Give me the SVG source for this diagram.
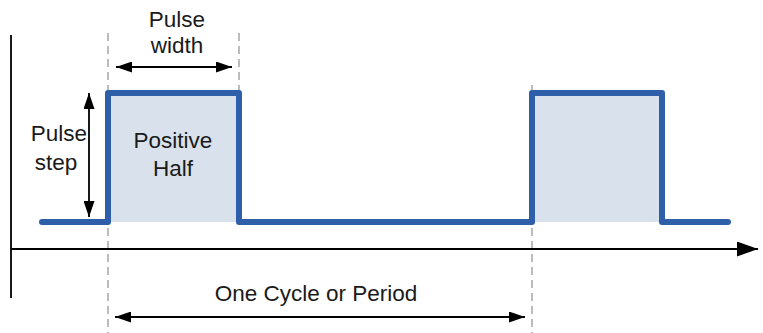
<svg xmlns="http://www.w3.org/2000/svg" width="763" height="333" viewBox="0 0 763 333">
<style>
.t{font-family:"Liberation Sans",Arial,sans-serif;font-size:22.5px;fill:#1a1a1a;text-anchor:middle}
.dash{stroke:#a6a6a6;stroke-width:1.5;stroke-dasharray:8 5;fill:none}
.ax{stroke:#000;stroke-width:1.8;fill:none}
.dim{stroke:#000;stroke-width:1.8;fill:none;marker-start:url(#ah);marker-end:url(#ah)}
.wave{stroke:#2e5fa8;stroke-width:6;fill:none;stroke-linejoin:round;stroke-linecap:round}
.fill{fill:#d9e1ec;stroke:none}
</style>
<defs>
<marker id="ah" viewBox="0 0 16 11" refX="16" refY="5.5" markerWidth="16" markerHeight="11" markerUnits="userSpaceOnUse" orient="auto-start-reverse">
<path d="M0,0 L16,5.5 L0,11 Z" fill="#000"/>
</marker>
<marker id="axh" viewBox="0 0 21 15" refX="21" refY="7.5" markerWidth="21" markerHeight="15" markerUnits="userSpaceOnUse" orient="auto">
<path d="M0,0 L21,7.5 L0,15 Z" fill="#000"/>
</marker>
</defs>
<g id="fills">
<rect class="fill" x="108" y="93" width="131" height="129"/>
<rect class="fill" x="532" y="93" width="130" height="129"/>
</g>
<g id="guides">
<line class="dash" x1="108" y1="33" x2="108" y2="333"/>
<line class="dash" x1="239" y1="33" x2="239" y2="92"/>
<line class="dash" x1="532" y1="85" x2="532" y2="333"/>
</g>
<g id="axes">
<line class="ax" x1="11" y1="35" x2="11" y2="298"/>
<line class="ax" x1="11" y1="249" x2="758" y2="249" marker-end="url(#axh)"/>
</g>
<g id="waveform">
<path class="wave" d="M42,222 H108 V93 H239 V222 H532 V93 H662 V222 H728"/>
</g>
<g id="connectors">
<line class="dim" x1="116" y1="67" x2="232" y2="67"/>
<line class="dim" x1="89" y1="93" x2="89" y2="217"/>
<line class="dim" x1="115" y1="317" x2="525" y2="317"/>
</g>
<g id="label-pulse-width"><text class="t" x="177" y="27">Pulse</text><text class="t" x="177" y="53">width</text></g>
<g id="label-pulse-step"><text class="t" x="59" y="141">Pulse</text><text class="t" x="56" y="170">step</text></g>
<g id="label-positive-half"><text class="t" x="173" y="148">Positive</text><text class="t" x="173" y="176">Half</text></g>
<g id="label-period"><text class="t" x="316" y="301">One Cycle or Period</text></g>
</svg>
